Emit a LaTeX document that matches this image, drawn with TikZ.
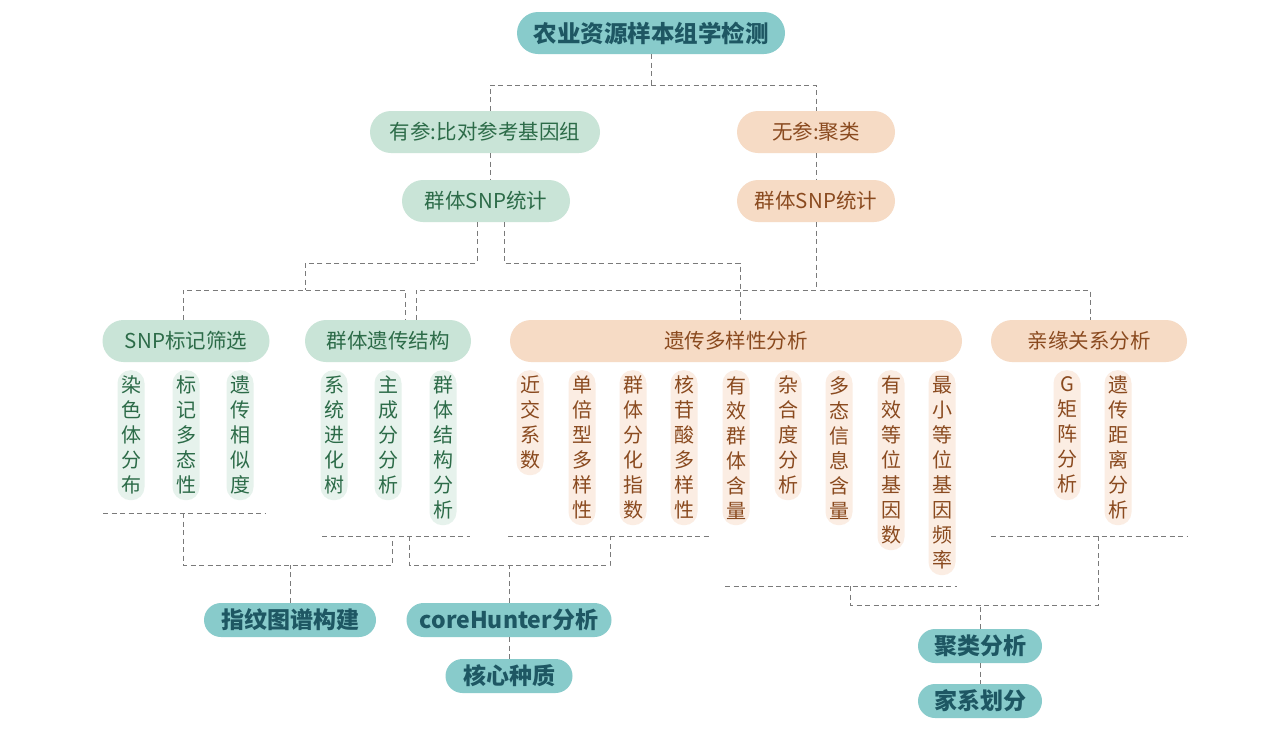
\documentclass[tikz,border=0pt]{standalone}
\usepackage{fontspec}
\setmainfont{Noto Sans CJK SC}
\usetikzlibrary{calc}
\definecolor{tealF}{HTML}{88CBCB}
\definecolor{tealT}{HTML}{1E5763}
\definecolor{grnF}{HTML}{C9E4D7}
\definecolor{grnT}{HTML}{2C6B48}
\definecolor{grnP}{HTML}{E6F2EC}
\definecolor{pchF}{HTML}{F6DBC5}
\definecolor{pchT}{HTML}{8A4A1F}
\definecolor{pchP}{HTML}{FBEDE3}
\definecolor{lineC}{HTML}{7A7A7A}
\begin{document}
\begin{tikzpicture}[x=1pt,y=-1pt,
 box/.style={rectangle, rounded corners=21pt, minimum height=42pt, inner sep=0pt, font=\fontsize{20.5}{24}\selectfont},
 gbox/.style={box, fill=grnF, text=grnT},
 pbox/.style={box, fill=pchF, text=pchT},
 tbox/.style={rectangle, rounded corners=17pt, minimum height=34pt, inner sep=0pt, fill=tealF, text=tealT, font=\fontsize{23}{27}\selectfont\bfseries},
 pill/.style={rectangle, rounded corners=13pt, minimum width=27pt, inner sep=0pt, anchor=north, align=center, font=\fontsize{20}{25}\selectfont},
 gpill/.style={pill, fill=grnP, text=grnT},
 ppill/.style={pill, fill=pchP, text=pchT},
 conn/.style={draw=lineC, line width=1pt, dash pattern=on 5pt off 3.5pt}
]
\useasboundingbox[fill=white] (0,0) rectangle (1267,748);

% level 1-3
\node[tbox, minimum width=268pt, minimum height=42pt, rounded corners=21pt, font=\fontsize{23.5}{27}\selectfont\bfseries] (top) at (651,33) {农业资源样本组学检测};
\node[gbox, minimum width=230pt] (yc) at (485,132) {有参:比对参考基因组};
\node[pbox, minimum width=158pt] (wc) at (816,132) {无参:聚类};
\node[gbox, minimum width=168pt] (ysnp) at (486,201) {群体SNP统计};
\node[pbox, minimum width=158pt] (wsnp) at (816,201) {群体SNP统计};

% level 4
\node[gbox, minimum width=167pt] (snpm) at (186,341) {SNP标记筛选};
\node[gbox, minimum width=166pt] (qt) at (388,341) {群体遗传结构};
\node[pbox, minimum width=452pt] (gd) at (736,341) {遗传多样性分析};
\node[pbox, minimum width=196pt] (qr) at (1089,341) {亲缘关系分析};

% pills
\node[gpill, minimum height=130pt] (p1) at (131,370) {染\\色\\体\\分\\布};
\node[gpill, minimum height=130pt] (p2) at (186,370) {标\\记\\多\\态\\性};
\node[gpill, minimum height=130pt] (p3) at (240,370) {遗\\传\\相\\似\\度};
\node[gpill, minimum height=130pt] (q1) at (334,370) {系\\统\\进\\化\\树};
\node[gpill, minimum height=130pt] (q2) at (388,370) {主\\成\\分\\分\\析};
\node[gpill, minimum height=155pt] (q3) at (443,370) {群\\体\\结\\构\\分\\析};
\node[ppill, minimum height=105pt] (g1) at (530,370) {近\\交\\系\\数};
\node[ppill, minimum height=155pt] (g2) at (582,370) {单\\倍\\型\\多\\样\\性};
\node[ppill, minimum height=155pt] (g3) at (633,370) {群\\体\\分\\化\\指\\数};
\node[ppill, minimum height=155pt] (g4) at (684,370) {核\\苷\\酸\\多\\样\\性};
\node[ppill, minimum height=155pt] (g5) at (736,370) {有\\效\\群\\体\\含\\量};
\node[ppill, minimum height=130pt] (g6) at (788,370) {杂\\合\\度\\分\\析};
\node[ppill, minimum height=155pt] (g7) at (839,370) {多\\态\\信\\息\\含\\量};
\node[ppill, minimum height=180pt] (g8) at (891,370) {有\\效\\等\\位\\基\\因\\数};
\node[ppill, minimum height=205pt] (g9) at (942,370) {最\\小\\等\\位\\基\\因\\频\\率};
\node[ppill, minimum height=130pt] (r1) at (1067,370) {G\\矩\\阵\\分\\析};
\node[ppill, minimum height=155pt] (r2) at (1118,370) {遗\\传\\距\\离\\分\\析};

% bottom nodes
\node[tbox, minimum width=172pt] (fp) at (290,620) {指纹图谱构建};
\node[tbox, minimum width=205pt] (ch) at (509,620) {coreHunter分析};
\node[tbox, minimum width=127pt] (hx) at (509,676) {核心种质};
\node[tbox, minimum width=124pt] (jl) at (980,646) {聚类分析};
\node[tbox, minimum width=124pt] (jx) at (980,701) {家系划分};

% top connectors
\coordinate (j1) at (651,85);
\draw[conn] (top.south) -- (j1);
\draw[conn] ([xshift=5pt]yc.north) |- (j1) -| (wc.north);
\draw[conn] ([xshift=5pt]yc.south) -- ([xshift=4pt]ysnp.north);
\draw[conn] (wc.south) -- (wsnp.north);

\coordinate (j2) at (305,263);
\coordinate (j3) at (305,290);
\coordinate (j4) at (405,290);
\draw[conn] ([xshift=-9pt]ysnp.south) |- (j2) -- (j3);
\draw[conn] ([xshift=-3pt]snpm.north) |- (j4) -- (j4 |- qt.north);

\coordinate (j5) at (740,263);
\draw[conn] ([xshift=18pt]ysnp.south) |- (j5) -- (j5 |- gd.north);

\coordinate (j6) at (816,290);
\coordinate (j7) at (416,290);
\coordinate (j8) at (1090,290);
\draw[conn] (wsnp.south) -- (j6);
\draw[conn] (j7 |- qt.north) -- (j7) -- (j8) -- (j8 |- qr.north);

% bottom brackets
\coordinate (b1l) at (103,513); \coordinate (b1r) at (265,513);
\coordinate (b2l) at (322,536); \coordinate (b2r) at (470,536);
\coordinate (b3l) at (508,536); \coordinate (b3r) at (710,536);
\coordinate (b4l) at (725,586); \coordinate (b4r) at (957,586);
\coordinate (b5l) at (991,536); \coordinate (b5r) at (1188,536);
\draw[conn] (b1l) -- (b1r);
\draw[conn] (b2l) -- (b2r);
\draw[conn] (b3l) -- (b3r);
\draw[conn] (b4l) -- (b4r);
\draw[conn] (b5l) -- (b5r);

\coordinate (k1) at (183,513); \coordinate (k1b) at (183,565);
\coordinate (k2) at (392,536); \coordinate (k2b) at (392,565);
\draw[conn] (k1) -- (k1b) -- (k2b) -- (k2);
\draw[conn] (fp.north) -- (fp.north |- k1b);

\coordinate (k3) at (409,536); \coordinate (k3b) at (409,565);
\coordinate (k4) at (610,536); \coordinate (k4b) at (610,565);
\draw[conn] (k3) -- (k3b) -- (k4b) -- (k4);
\draw[conn] (ch.north) -- (ch.north |- k3b);
\draw[conn] (ch.south) -- (hx.north);

\coordinate (k5) at (850,586); \coordinate (k5b) at (850,605);
\coordinate (k6) at (1098,536); \coordinate (k6b) at (1098,605);
\draw[conn] (k5) -- (k5b) -- (k6b) -- (k6);
\draw[conn] (jl.north) -- (jl.north |- k5b);
\draw[conn] (jl.south) -- (jx.north);
\end{tikzpicture}
\end{document}
